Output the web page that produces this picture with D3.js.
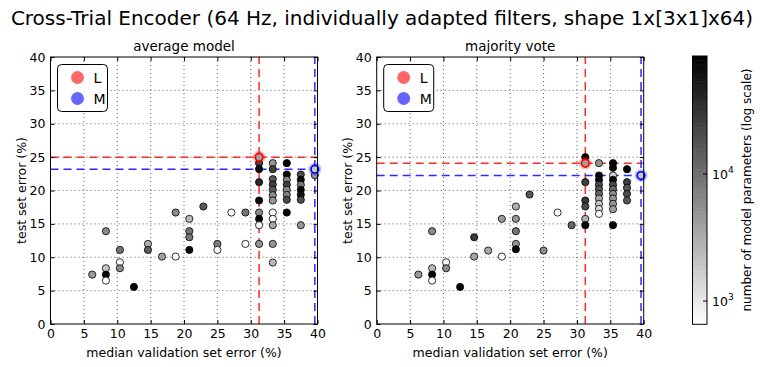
<!DOCTYPE html>
<html>
<head>
<meta charset="utf-8">
<script src="https://cdn.jsdelivr.net/npm/d3@7"></script>
<style>
  body { margin: 0; background: #fff; }
  svg { font-family: "DejaVu Sans", sans-serif; }
</style>
</head>
<body>
<svg id="chart" width="762" height="367"></svg>
<script>
// Data
var titleText = "Cross-Trial Encoder (64 Hz, individually adapted filters, shape 1x[3x1]x64)";
var panelTitles = ["average model", "majority vote"];
var axisTicks = [0, 5, 10, 15, 20, 25, 30, 35, 40];

// average model: median validation error, test error, number of parameters
var avgX = [6.25, 8.3, 8.3, 8.3, 8.3, 10.4, 10.4, 10.4, 12.5, 14.6, 14.6, 16.7, 18.75, 18.75,
  20.8, 20.8, 20.8, 20.8, 22.9, 25.0, 25.0, 27.1, 29.2, 29.2,
  31.25, 31.25, 31.25, 31.25, 31.25, 31.25, 31.25, 31.25,
  33.3, 33.3, 33.3, 33.3, 33.3, 33.3, 33.3, 33.3, 33.3, 33.3, 33.3, 33.3,
  35.4, 35.4, 35.4, 35.4, 35.4, 35.4, 35.4, 35.4,
  37.5, 37.5, 37.5, 37.5, 37.5, 37.5, 37.5, 39.6];
var avgY = [7.4, 13.9, 8.35, 7.4, 6.5, 11.1, 9.25, 8.35, 5.55, 12.0, 11.1, 10.1, 10.1, 16.7,
  15.75, 13.9, 13.0, 11.1, 17.6, 12.0, 11.1, 16.7, 16.7, 12.0,
  24.1, 23.2, 21.25, 18.5, 16.7, 15.75, 14.8, 12.0,
  24.1, 23.2, 21.7, 20.9, 20.1, 19.3, 18.5, 16.7, 15.75, 14.8, 12.0, 9.2,
  24.1, 22.4, 21.6, 20.85, 20.1, 19.35, 18.6, 16.7,
  22.4, 21.6, 20.85, 20.1, 19.35, 18.6, 14.8, 22.3];
var avgParams = [4500, 6000, 2000, 75000, 700, 9000, 700, 6000, 80000, 3000, 14000, 4000, 700, 6000,
  2500, 9000, 9000, 75000, 16000, 8000, 700, 700, 9000, 700,
  25000, 70000, 40000, 70000, 6000, 75000, 700, 5000,
  5000, 25000, 16000, 25000, 16000, 6000, 5000, 700, 700, 3500, 5000, 2500,
  80000, 70000, 7000, 25000, 6000, 7000, 20000, 80000,
  20000, 70000, 8000, 70000, 60000, 20000, 5000, 5000];

// majority vote
var voteX = [6.25, 8.3, 8.3, 8.3, 8.3, 10.4, 10.4, 12.5, 14.6, 14.6, 16.7, 18.75, 18.75,
  20.85, 20.85, 20.85, 20.85, 20.85, 22.9, 25.0, 27.1, 29.2,
  31.25, 31.25, 31.25, 31.25, 31.25, 31.25,
  33.3, 33.3, 33.3, 33.3, 33.3, 33.3, 33.3, 33.3, 33.3, 33.3,
  35.4, 35.4, 35.4, 35.4, 35.4, 35.4, 35.4, 35.4, 35.4, 35.4, 35.4,
  37.5, 37.5, 37.5, 37.5, 37.5];
var voteY = [7.4, 13.9, 8.35, 7.4, 6.5, 9.25, 8.35, 5.55, 13.0, 10.1, 11.0, 15.75, 10.1,
  17.6, 15.75, 13.9, 12.0, 11.2, 19.4, 11.0, 16.7, 14.8,
  25.0, 21.25, 18.5, 17.6, 15.75, 14.8,
  24.1, 22.25, 21.6, 20.85, 20.2, 19.5, 18.8, 18.0, 17.25, 16.5,
  24.1, 23.4, 22.25, 21.6, 20.85, 20.2, 19.5, 18.8, 18.0, 17.2, 14.8,
  23.2, 21.25, 20.4, 19.5, 18.5];
var voteParams = [4500, 6000, 2500, 75000, 700, 700, 6000, 80000, 30000, 3500, 3500, 4500, 700,
  3000, 5000, 9000, 5000, 75000, 16000, 6000, 700, 12000,
  80000, 25000, 30000, 20000, 3000, 75000,
  5000, 75000, 70000, 20000, 16000, 12000, 3500, 2000, 1500, 700,
  75000, 70000, 1500, 70000, 20000, 12000, 6000, 5000, 5000, 4000, 80000,
  80000, 25000, 16000, 20000, 16000];

// highlighted models L and M per panel: [x, y, params]
var avgL = [31.25, 25.0, 4000];
var avgM = [39.6, 23.2, 2000];
var voteL = [31.25, 24.1, 4000];
var voteM = [39.6, 22.25, 2000];

var legendLabels = ["L", "M"];
var cbRange = [656, 85000];
var cbTicks = [1000, 10000];

var svg = d3.select("#chart");
svg.append("rect").attr("width", 762).attr("height", 367).attr("fill", "#fff");

var color = d3.scaleLog().domain(cbRange).range(["#ffffff", "#000000"]).clamp(true);

// Title
svg.append("text")
   .attr("x", 382).attr("y", 25)
   .attr("text-anchor", "middle")
   .style("font-size", "20px")
   .text(titleText);

// Draws one scatter panel
function drawPanel(left, title, xs, ys, ps, lm, mm) {
    var top = 57, size = 267;
    var x = d3.scaleLinear().domain([0, 40]).range([left, left + size]);
    var y = d3.scaleLinear().domain([0, 40]).range([top + size, top]);
    var g = svg.append("g");

    // grid
    g.selectAll("gx").data(axisTicks.slice(1, -1)).enter().append("line")
     .attr("x1", function(d) { return x(d); }).attr("x2", function(d) { return x(d); })
     .attr("y1", top).attr("y2", top + size)
     .attr("stroke", "#000").attr("stroke-opacity", 0.7)
     .attr("stroke-width", 0.9).attr("stroke-dasharray", "1,3");
    g.selectAll("gy").data(axisTicks.slice(1, -1)).enter().append("line")
     .attr("y1", function(d) { return y(d); }).attr("y2", function(d) { return y(d); })
     .attr("x1", left).attr("x2", left + size)
     .attr("stroke", "#000").attr("stroke-opacity", 0.7)
     .attr("stroke-width", 0.9).attr("stroke-dasharray", "1,3");

    // reference lines through L (red) and M (blue)
    [[lm, "#ff2a2a"], [mm, "#2a2aff"]].forEach(function(r) {
        g.append("line")
         .attr("x1", x(0)).attr("x2", x(40))
         .attr("y1", y(r[0][1])).attr("y2", y(r[0][1]))
         .attr("stroke", r[1]).attr("stroke-width", 1.5).attr("stroke-dasharray", "8,5");
        g.append("line")
         .attr("x1", x(r[0][0])).attr("x2", x(r[0][0]))
         .attr("y1", y(0)).attr("y2", y(40))
         .attr("stroke", r[1]).attr("stroke-width", 1.5).attr("stroke-dasharray", "8,5");
    });

    // scatter points
    g.selectAll("pt").data(d3.range(xs.length)).enter().append("circle")
     .attr("cx", function(i) { return x(xs[i]); })
     .attr("cy", function(i) { return y(ys[i]); })
     .attr("r", 3.6)
     .attr("fill", function(i) { return color(ps[i]); })
     .attr("stroke", "#000").attr("stroke-width", 0.8);

    // highlighted L and M
    [[lm, "#ff0000"], [mm, "#0000ff"]].forEach(function(r) {
        g.append("circle")
         .attr("cx", x(r[0][0])).attr("cy", y(r[0][1])).attr("r", 6.5)
         .attr("fill", r[1]).attr("fill-opacity", 0.25);
        g.append("circle")
         .attr("cx", x(r[0][0])).attr("cy", y(r[0][1])).attr("r", 3.8)
         .attr("fill", color(r[0][2]))
         .attr("stroke", r[1]).attr("stroke-width", 1.6);
    });

    // frame
    g.append("rect")
     .attr("x", left).attr("y", top).attr("width", size).attr("height", size)
     .attr("fill", "none").attr("stroke", "#000").attr("stroke-width", 1);

    // axes, ticks inward
    g.append("g").attr("transform", "translate(0," + (top + size) + ")")
        .call(d3.axisBottom(x).tickValues(axisTicks).tickSize(-4).tickPadding(5));
    g.append("g").attr("transform", "translate(" + left + ",0)")
        .call(d3.axisLeft(y).tickValues(axisTicks).tickSize(-4).tickPadding(5));
    g.append("g").attr("transform", "translate(0," + top + ")")
        .call(d3.axisTop(x).tickValues(axisTicks).tickSize(-4).tickFormat(""));
    g.append("g").attr("transform", "translate(" + (left + size) + ",0)")
        .call(d3.axisRight(y).tickValues(axisTicks).tickSize(-4).tickFormat(""));
    g.selectAll(".domain").remove();
    g.selectAll(".tick line").attr("stroke", "#000");
    g.selectAll(".tick text").attr("fill", "#000")
     .style("font-size", "12.5px").style("font-family", "DejaVu Sans");

    // panel title and axis labels
    g.append("text").attr("x", left + size / 2).attr("y", 51)
     .attr("text-anchor", "middle").style("font-size", "13.5px").text(title);
    g.append("text").attr("x", left + size / 2).attr("y", 357)
     .attr("text-anchor", "middle").style("font-size", "12.5px")
     .text("median validation set error (%)");
    g.append("text")
     .attr("transform", "translate(" + (left - 25) + "," + (top + size / 2) + ") rotate(-90)")
     .attr("text-anchor", "middle").style("font-size", "12.5px")
     .text("test set error (%)");

    // legend
    var lg = g.append("g").attr("transform", "translate(" + (left + 7) + ",64.5)");
    lg.append("rect").attr("width", 50).attr("height", 47).attr("rx", 4)
      .attr("fill", "#fff").attr("stroke", "#000").attr("stroke-width", 1);
    legendLabels.forEach(function(lbl, i) {
        lg.append("circle").attr("cx", 20).attr("cy", 13 + i * 21).attr("r", 6.5)
          .attr("fill", i == 0 ? "#ff6666" : "#6666ff");
        lg.append("text").attr("x", 36).attr("y", 18 + i * 21)
          .style("font-size", "14px").text(lbl);
    });
}

drawPanel(50.5, panelTitles[0], avgX, avgY, avgParams, avgL, avgM);
drawPanel(376.7, panelTitles[1], voteX, voteY, voteParams, voteL, voteM);

// Colorbar
var cbX = 692.5, cbW = 14.5;
var cy = d3.scaleLog().domain(cbRange).range([324.3, 56]);
var steps = 64;
var cb = svg.append("g");
d3.range(steps).forEach(function(i) {
    var lo = Math.exp(Math.log(cbRange[0]) + (Math.log(cbRange[1]) - Math.log(cbRange[0])) * i / steps);
    var hi = Math.exp(Math.log(cbRange[0]) + (Math.log(cbRange[1]) - Math.log(cbRange[0])) * (i + 1) / steps);
    cb.append("rect")
      .attr("x", cbX).attr("y", cy(hi)).attr("width", cbW).attr("height", cy(lo) - cy(hi) + 0.5)
      .attr("fill", color(Math.sqrt(lo * hi)));
});
cb.append("rect").attr("x", cbX).attr("y", cy(cbRange[1])).attr("width", cbW)
  .attr("height", cy(cbRange[0]) - cy(cbRange[1]))
  .attr("fill", "none").attr("stroke", "#000").attr("stroke-width", 1);
cbTicks.forEach(function(t) {
    cb.append("line").attr("x1", cbX + cbW - 4).attr("x2", cbX + cbW)
      .attr("y1", cy(t)).attr("y2", cy(t)).attr("stroke", "#000");
    var txt = cb.append("text").attr("x", cbX + cbW + 5).attr("y", cy(t) + 5)
      .style("font-size", "12.5px");
    txt.append("tspan").text("10");
    txt.append("tspan").attr("dy", -6).style("font-size", "9px").text(Math.round(Math.log10(t)));
});
cb.append("text")
  .attr("transform", "translate(751,190) rotate(-90)")
  .attr("text-anchor", "middle").style("font-size", "12px")
  .text("number of model parameters (log scale)");
</script>
</body>
</html>
